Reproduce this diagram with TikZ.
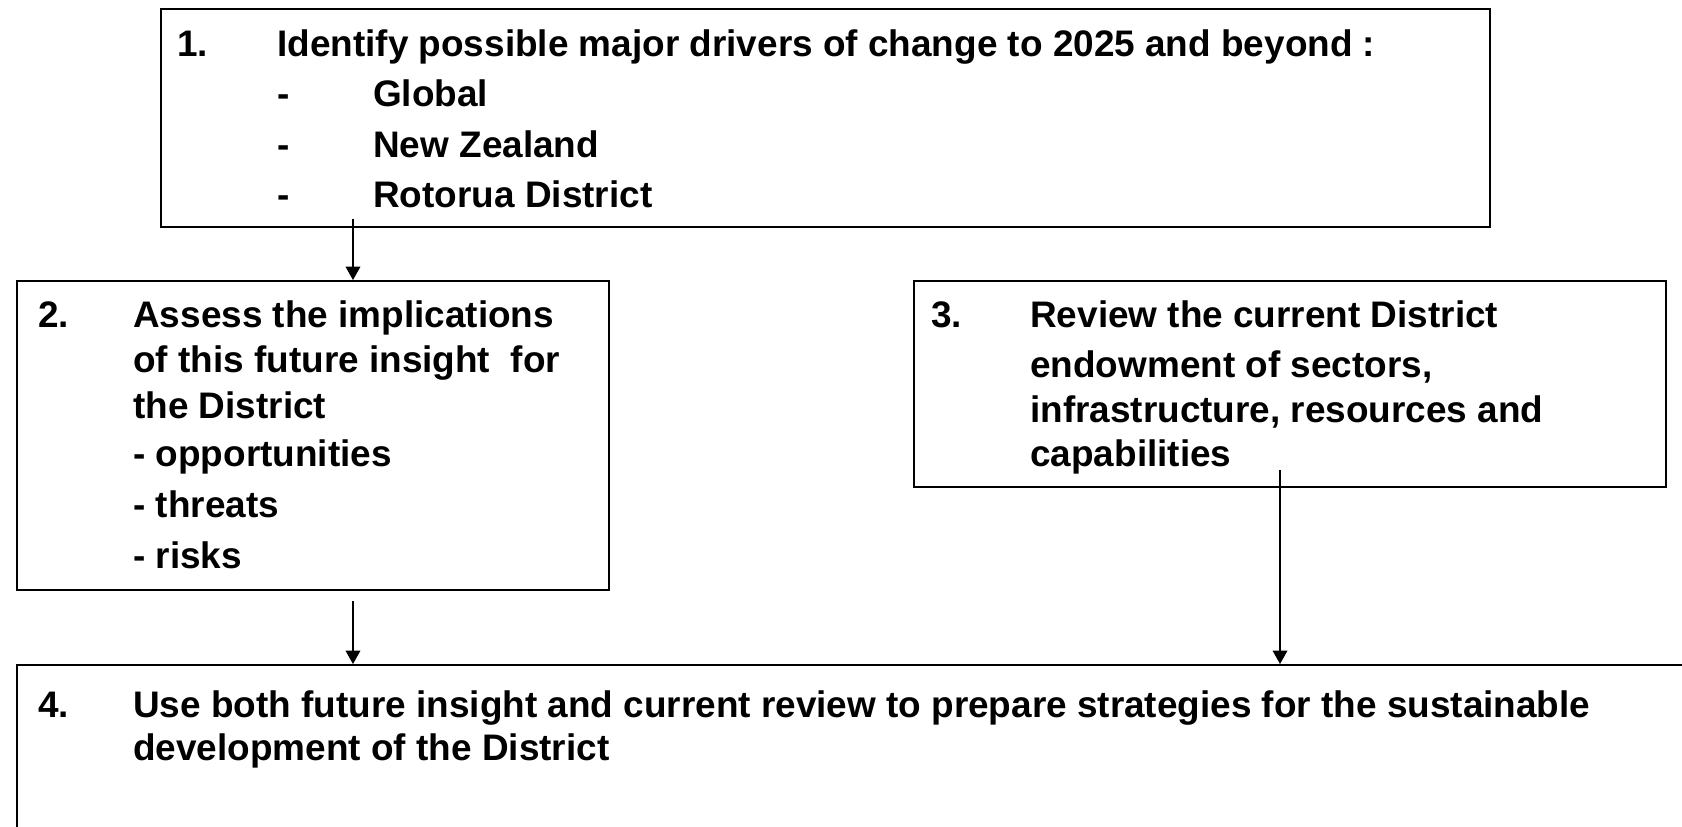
\documentclass[tikz,border=0pt]{standalone}
\usepackage{fontspec}
\setmainfont{Liberation Sans}
\usetikzlibrary{arrows.meta,calc,positioning}
\newcommand{\numtab}[1]{\makebox[75pt][l]{#1}}
\newcommand{\dashtab}{\makebox[72pt][l]{-}}

\begin{document}
\begin{tikzpicture}[x=0.75pt,y=-0.75pt,
    stagebox/.style={draw,line width=1.4pt,inner sep=0pt,anchor=north west},
    txt/.style={inner sep=0pt,anchor=base west,font=\fontsize{27.7}{34}\selectfont\bfseries},
    flow/.style={line width=0.9pt,-{Triangle[width=11pt,length=10pt]}}]
    \clip (0,0) rectangle (1682,826);
    \fill[white] (0,0) rectangle (1682,826);

    % boxes
    \node[stagebox,minimum width=996.75pt,minimum height=163.5pt] (B1) at (160,8) {};
    \node[stagebox,minimum width=444pt,minimum height=231.75pt] (B2) at (16,280) {};
    \node[stagebox,minimum width=564pt,minimum height=154.5pt] (B3) at (913,280) {};
    \node[stagebox,minimum width=1263pt,minimum height=139.5pt] (B4) at (16,664) {};

    % step 1
    \node[txt] (T1) at (177,56) {\numtab{1.}Identify possible major drivers of change to 2025 and beyond :};
    \node[txt] (T1a) at (277,106) {\dashtab Global};
    \node[txt] (T1b) at (277,157) {\dashtab New Zealand};
    \node[txt] (T1c) at (277,207) {\dashtab Rotorua District};

    % step 2
    \node[txt] (N2) at (38,327) {2.};
    \node[txt] (T2a) at (133,327) {Assess the implications};
    \node[txt] (T2b) at (133,372) {of this future insight\ \ for};
    \node[txt] (T2c) at (133,418) {the District};
    \node[txt] (T2d) at (133,466) {- opportunities};
    \node[txt] (T2e) at (133,517) {- threats};
    \node[txt] (T2f) at (133,568) {- risks};

    % step 3
    \node[txt] (N3) at (931,327) {3.};
    \node[txt] (T3a) at (1030,327) {Review the current District};
    \node[txt] (T3b) at (1030,377) {endowment of sectors,};
    \node[txt] (T3c) at (1030,422) {infrastructure, resources and};
    \node[txt] (T3d) at (1030,466) {capabilities};

    % step 4
    \node[txt] (N4) at (38,717) {4.};
    \node[txt] (T4a) at (133,717) {Use both future insight and current review to prepare strategies for the sustainable};
    \node[txt] (T4b) at (133,760) {development of the District};

    % connectors
    \coordinate (S12) at (353,219);
    \coordinate (S24) at (353,601);
    \coordinate (S34) at (1280,470);
    \draw[flow] (S12) -- (S12 |- B2.north);
    \draw[flow] (S24) -- (S24 |- B4.north);
    \draw[flow] (S34) -- (S34 |- B4.north);
  \end{tikzpicture}
\end{document}
